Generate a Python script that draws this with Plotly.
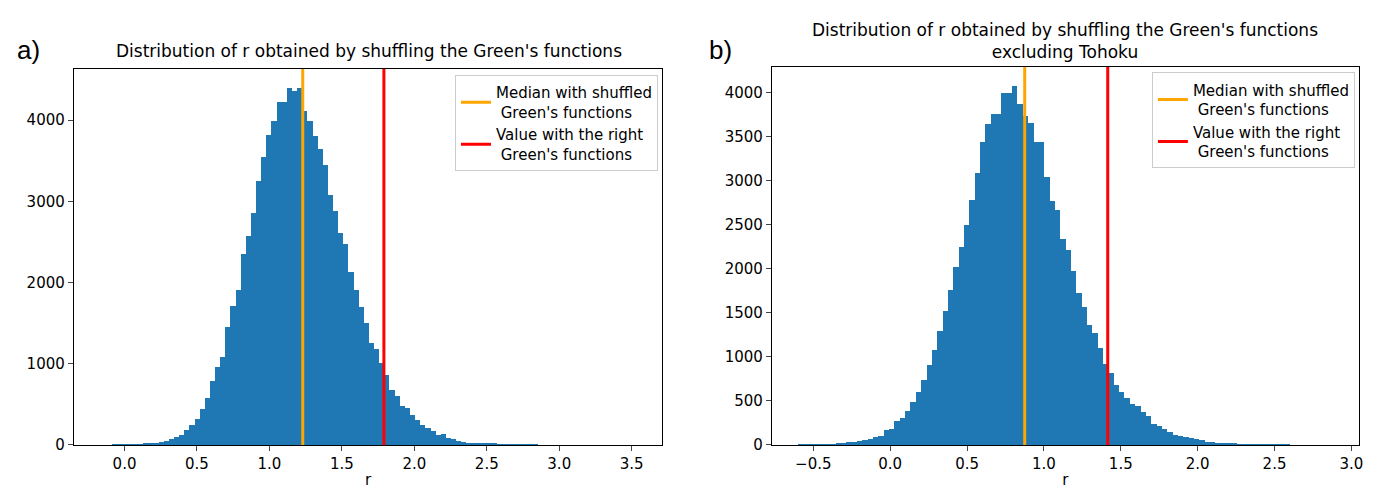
import plotly.graph_objects as go

# Left histogram: 100 bins from -0.12, width 0.0354
left_start, left_width = -0.12, 0.0354
left_counts = [0, 1, 1, 2, 3, 5, 8,
    12, 14, 20, 36, 48, 73, 93, 121, 181, 242, 314, 443, 576, 786, 955, 1088,
    1451, 1713, 1910, 2345, 2575, 2853, 3252, 3542, 3820, 3990, 4219, 4219, 4389,
    4356, 4400, 4110, 3990, 3808, 3643, 3450, 3071, 2881, 2611, 2478, 2128, 1906,
    1693, 1499, 1257, 1177, 1003, 866, 673, 605, 480, 451, 371, 302, 250, 205, 173,
    121, 133, 85, 73, 48, 36, 24, 22, 18, 16, 14, 12, 10, 6, 4, 3, 2, 2, 1, 1,
    0, 0, 0, 0, 0, 0, 0, 0, 0, 0, 0, 0, 0, 0, 0, 0]
left_median, left_value = 1.23, 1.79

right_start, right_width = -0.6, 0.0348
right_counts = [1, 1, 2, 3, 4, 6, 9, 12,
    18, 30, 37, 48, 55, 67, 85, 100, 167, 178, 267, 308, 390, 490, 601, 735, 902,
    1083, 1291, 1521, 1759, 2015, 2248, 2493, 2783, 3083, 3439, 3643, 3762, 3762,
    3996, 3996, 4074, 3877, 3736, 3651, 3439, 3439, 3039, 2771, 2664, 2337, 2215,
    1977, 1725, 1569, 1358, 1269, 1106, 924, 813, 686, 601, 534, 464, 445, 371,
    334, 234, 215, 186, 148, 111, 104, 85, 74, 63, 52, 37, 30, 25, 20, 15, 12, 9,
    7, 5, 4, 3, 2, 2, 1, 1, 1, 0, 0, 0, 0, 0, 0, 0, 0]
right_median, right_value = 0.875, 1.415

BLUE = "#1f77b4"
fig = go.Figure()

def hist(start, width, counts, xa, ya):
    xs = [start + width * (i + 0.5) for i in range(len(counts))]
    fig.add_trace(go.Bar(x=xs, y=counts, width=width, marker=dict(color=BLUE, line_width=0),
                         showlegend=False, xaxis=xa, yaxis=ya, hoverinfo="skip"))

hist(left_start, left_width, left_counts, "x", "y")
hist(right_start, right_width, right_counts, "x2", "y2")

for med, val, xa, ya, top, lg in [(left_median, left_value, "x", "y", 10000, "legend"),
                                  (right_median, right_value, "x2", "y2", 10000, "legend2")]:
    fig.add_trace(go.Scatter(x=[med, med], y=[0, top], mode="lines", line=dict(color="orange", width=3),
                             name="Median with shuffled<br> Green's functions", xaxis=xa, yaxis=ya, legend=lg))
    fig.add_trace(go.Scatter(x=[val, val], y=[0, top], mode="lines", line=dict(color="red", width=3),
                             name="Value with the right<br> Green's functions", xaxis=xa, yaxis=ya, legend=lg))

ax = dict(showline=True, linecolor="black", mirror=True, ticks="outside", ticklen=5,
          showgrid=False, zeroline=False, tickfont=dict(size=15, color="black"))
legstyle = dict(bgcolor="rgba(255,255,255,0.8)", bordercolor="#cccccc", borderwidth=1,
                font=dict(size=15, color="black"), xanchor="right", yanchor="top", tracegroupgap=2)
fig.update_layout(
    width=1389, height=497, margin=dict(l=0, r=0, t=0, b=0),
    plot_bgcolor="white", paper_bgcolor="white", bargap=0,
    font=dict(family="DejaVu Sans", color="black"),
    xaxis=dict(domain=[0.0475, 0.4723], range=[-0.35, 3.71], dtick=0.5, tickformat=".1f",
               title=dict(text="r", font=dict(size=15), standoff=2), anchor="y", **ax),
    yaxis=dict(domain=[0.1046, 0.875], range=[0, 4628], dtick=1000, anchor="x", **ax),
    xaxis2=dict(domain=[0.5515, 0.9755], range=[-0.77, 3.05], dtick=0.5, tickformat=".1f",
                title=dict(text="r", font=dict(size=15), standoff=2), anchor="y2", **ax),
    yaxis2=dict(domain=[0.1046, 0.879], range=[0, 4292], dtick=500, anchor="x2", **ax),
    legend=dict(x=0.4693, y=0.862, **legstyle),
    legend2=dict(x=0.9725, y=0.868, **legstyle),
    annotations=[
        dict(text="Distribution of r obtained by shuffling the Green's functions", x=0.2605, y=0.888,
             xref="paper", yref="paper", xanchor="center", yanchor="bottom", showarrow=False,
             font=dict(size=17)),
        dict(text="Distribution of r obtained by shuffling the Green's functions<br>excluding Tohoku",
             x=0.7635, y=0.885, xref="paper", yref="paper", xanchor="center", yanchor="bottom",
             showarrow=False, font=dict(size=17)),
        dict(text="a)", x=0.005, y=0.88, xref="paper", yref="paper", xanchor="left", yanchor="bottom",
             showarrow=False, font=dict(size=26, family="Liberation Sans")),
        dict(text="b)", x=0.505, y=0.88, xref="paper", yref="paper", xanchor="left", yanchor="bottom",
             showarrow=False, font=dict(size=26, family="Liberation Sans")),
    ],
)
fig.write_html("out.html")
